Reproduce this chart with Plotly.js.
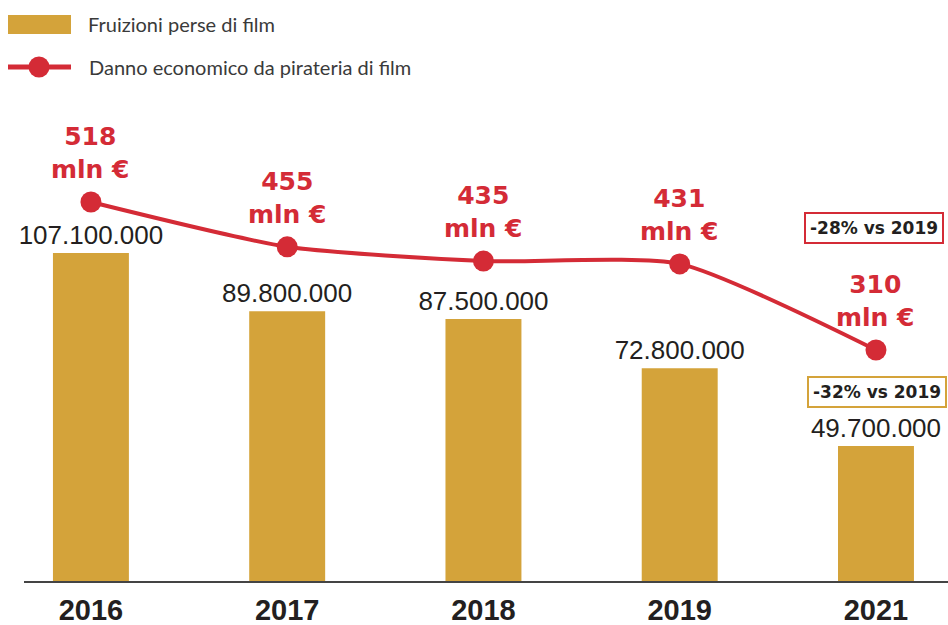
<!DOCTYPE html>
<html>
<head>
<meta charset="utf-8">
<script src="https://cdn.plot.ly/plotly-3.0.1.min.js"></script>
<style>html,body{margin:0;padding:0;background:#fff;}#chart{width:948px;height:625px;}</style>
</head>
<body>
<div id="chart"></div>
<script>
const years = ['2016', '2017', '2018', '2019', '2021'];
const fruizioniPerse = [107100000, 89800000, 87500000, 72800000, 49700000];
const dannoMln = [518, 455, 435, 431, 310];
const legendLabels = ['Fruizioni perse di film', 'Danno economico da pirateria di film'];
const compareLabels = ['-28% vs 2019', '-32% vs 2019'];

const GOLD = '#D4A33A';
const RED = '#D42B36';
const DARK = '#231F20';

function fmtIt(v) {
  return String(v).replace(/\B(?=(\d{3})+(?!\d))/g, '.');
}

// pixel helpers for paper coords (plot area: x 24..948, y 100..581)
const L = 24, R = 0, T = 100, B = 44, W = 948, H = 625;
const pw = W - L - R, ph = H - T - B;
const px = x => (x - L) / pw;
const py = y => (H - B - y) / ph;

const bars = {
  type: 'bar',
  x: years,
  y: fruizioniPerse,
  marker: { color: GOLD },
  width: 0.387,
  text: fruizioniPerse.map(fmtIt),
  textposition: 'outside',
  constraintext: 'none',
  cliponaxis: false,
  textfont: { family: '"Liberation Sans Narrow", "Arial Narrow", "Liberation Sans", sans-serif', size: 26, color: DARK },
  hoverinfo: 'skip',
  name: legendLabels[0]
};

const line = {
  type: 'scatter',
  mode: 'lines+markers',
  x: years,
  y: dannoMln,
  yaxis: 'y2',
  line: { color: RED, width: 4, shape: 'spline', smoothing: 0.6 },
  marker: { color: RED, size: 21 },
  cliponaxis: false,
  hoverinfo: 'skip',
  name: legendLabels[1]
};

const annotations = [];
years.forEach((yr, i) => {
  annotations.push({
    x: i, y: dannoMln[i], xref: 'x', yref: 'y2',
    text: '<b>' + dannoMln[i] + '<br>mln €</b>',
    showarrow: false, yanchor: 'bottom', yshift: 16,
    font: { family: '"DejaVu Sans", sans-serif', size: 25, color: RED },
    align: 'center'
  });
});
annotations.push({
  x: px(874), y: py(228), xref: 'paper', yref: 'paper',
  text: '<b>' + compareLabels[0] + '</b>', showarrow: false,
  font: { family: '"DejaVu Sans", sans-serif', size: 17, color: DARK },
  bordercolor: RED, borderwidth: 2, borderpad: 4, bgcolor: '#fff',
  xanchor: 'center', yanchor: 'middle'
});
annotations.push({
  x: px(877), y: py(392), xref: 'paper', yref: 'paper',
  text: '<b>' + compareLabels[1] + '</b>', showarrow: false,
  font: { family: '"DejaVu Sans", sans-serif', size: 17, color: DARK },
  bordercolor: GOLD, borderwidth: 2, borderpad: 4, bgcolor: '#fff',
  xanchor: 'center', yanchor: 'middle'
});
// legend texts
annotations.push({
  x: px(86), y: py(24), xref: 'paper', yref: 'paper', xanchor: 'left', yanchor: 'middle',
  text: legendLabels[0], showarrow: false,
  font: { family: 'Lato, sans-serif', size: 20, color: '#3a3a3a' }
});
annotations.push({
  x: px(87), y: py(67), xref: 'paper', yref: 'paper', xanchor: 'left', yanchor: 'middle',
  text: legendLabels[1], showarrow: false,
  font: { family: 'Lato, sans-serif', size: 20, color: '#3a3a3a' }
});

const shapes = [
  { type: 'rect', xref: 'paper', yref: 'paper', x0: px(8), x1: px(71), y0: py(34), y1: py(15), fillcolor: GOLD, line: { width: 0 } },
  { type: 'line', xref: 'paper', yref: 'paper', x0: px(8), x1: px(71), y0: py(67), y1: py(67), line: { color: RED, width: 5 } },
  { type: 'circle', xref: 'paper', yref: 'paper', x0: px(28.5), x1: px(49.5), y0: py(77.5), y1: py(56.5), fillcolor: RED, line: { width: 0 } }
];

const layout = {
  width: W, height: H,
  margin: { l: L, r: R, t: T, b: B, pad: 0 },
  paper_bgcolor: '#fff', plot_bgcolor: '#fff',
  showlegend: false,
  xaxis: {
    type: 'category', categoryorder: 'array', categoryarray: years,
    range: [-0.341, 4.367],
    showline: true, linecolor: '#444', linewidth: 1.5,
    showgrid: false, zeroline: false, ticks: '',
    tickfont: { family: '"Liberation Sans", Arial, sans-serif', size: 29, color: DARK, weight: 'bold' },
    ticklabelstandoff: 3,
    fixedrange: true
  },
  yaxis: {
    range: [9.54e6, 152.6e6],
    showgrid: false, zeroline: false, showticklabels: false, showline: false, ticks: ''
  },
  yaxis2: {
    overlaying: 'y', side: 'right',
    range: [-14.7, 661.4],
    showgrid: false, zeroline: false, showticklabels: false, showline: false, ticks: ''
  },
  annotations: annotations,
  shapes: shapes
};

Plotly.newPlot('chart', [bars, line], layout, { staticPlot: true, displayModeBar: false });
</script>
</body>
</html>
